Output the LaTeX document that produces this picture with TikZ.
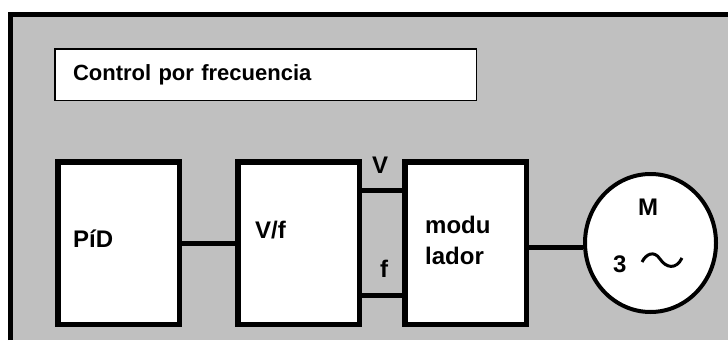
\documentclass[tikz,border=0pt]{standalone}
\usepackage{fontspec}
\setmainfont{Liberation Sans}
\usetikzlibrary{positioning,shapes.geometric}
\definecolor{panel}{HTML}{C0C0C0}

\begin{document}
\begin{tikzpicture}[
  x=1pt,y=-1pt,
  font=\bfseries,
  block/.style={draw=black,line width=5.5pt,fill=white,
                minimum width=121.5pt,minimum height=162.5pt,inner sep=0pt},
  lbl/.style={inner sep=0pt,font=\fontsize{24}{31}\selectfont\bfseries,
              align=left},
  wire/.style={draw=black,line width=5pt},
]

\useasboundingbox (0,0) rectangle (728,340);

% Panel, framed on top and left only
\fill[panel] (8,12) rectangle (728,340);
\draw[line width=5pt] (10.5,340) -- (10.5,14.5) -- (728,14.5);

% Title
\node[draw=black,line width=1.5pt,fill=white,minimum width=421.5pt,
      minimum height=51.5pt,text width=385pt,inner xsep=18pt,align=left,
      font=\fontsize{22}{26}\selectfont\bfseries]
  (title) at (265.5,74.5) {Control por frecuencia};

% Blocks
\node[block] (pid) at (118.5,243) {};
\node[block,right=53pt of pid] (vf) {};
\node[block,right=40pt of vf] (mod) {};
\node[draw=black,line width=4pt,fill=white,ellipse,inner sep=0pt,
      minimum width=131pt,minimum height=138pt,right=54pt of mod] (motor) {};

% Block labels
\node[lbl,anchor=base west] (pidlbl) at (73,247) {PíD};
\node[lbl,anchor=base west] (vflbl) at (255,238) {V/f};
\node[lbl,anchor=west] (modlbl) at (425,240) {modu\\lador};
\node[lbl,anchor=base] (mlbl) at (648,215) {M};
\node[lbl,anchor=base west] (phases) at (613,272) {3};
\node[lbl,anchor=base] (vlbl) at (380,173) {V};
\node[lbl,anchor=base] (flbl) at (384,277) {f};

% Wires
\draw[wire] (pid.east) -- (vf.west);
\draw[wire] ([yshift=53pt]vf.east) -- ([yshift=53pt]vf.east -| mod.west);
\draw[wire] ([yshift=-52.5pt]vf.east) -- ([yshift=-52.5pt]vf.east -| mod.west);
\draw[wire] ([yshift=-4pt]mod.east) -- ([yshift=-4pt]mod.east -| motor.west);

% AC sign in the motor
\draw[line width=3pt] (642,262) .. controls (646,254) and (654,250) .. (660,259)
  .. controls (666,268) and (676,270) .. (682,258);

\end{tikzpicture}
\end{document}
